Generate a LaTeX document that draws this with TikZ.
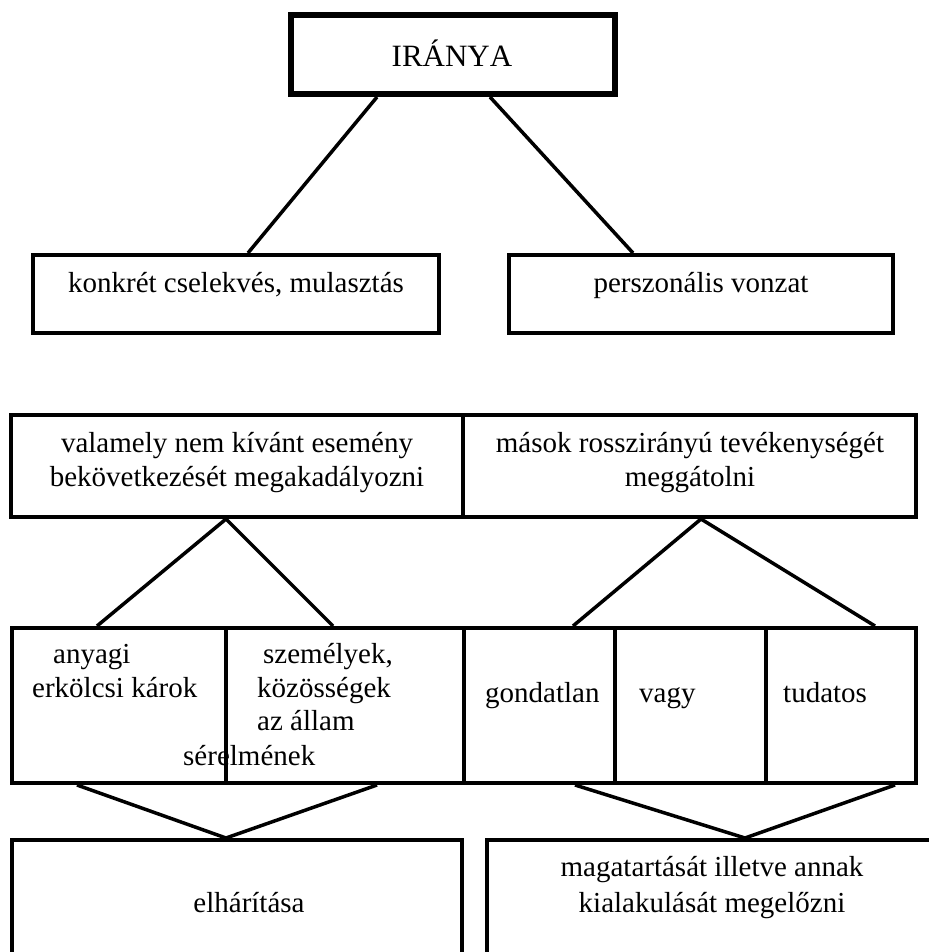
\documentclass[tikz,border=0pt]{standalone}
\usepackage{fontspec}
\setmainfont{Liberation Serif}[Kerning=Off]
\tikzset{box/.style={draw=black,line width=4pt,inner sep=0pt},txt/.style={font=\fontsize{29}{34}\selectfont,inner sep=0pt},conn/.style={line width=3.5pt}}

\begin{document}
\begin{tikzpicture}[x=1pt,y=-1pt]
\useasboundingbox (0,0) rectangle (928,952);
% boxes
\node[box,line width=6pt,minimum width=324pt,minimum height=79pt] (ir) at (453,54.5) {};
\node[box,minimum width=406pt,minimum height=78pt] (kc) at (236,294) {};
\node[box,minimum width=384pt,minimum height=78pt] (pv) at (701,294) {};
\node[box,minimum width=452pt,minimum height=102pt] (vn) at (237,466) {};
\node[box,minimum width=453pt,minimum height=102pt] (mr) at (689.5,466) {};
\node[box,minimum width=214pt,minimum height=155pt] (an) at (119,705.5) {};
\node[box,minimum width=238pt,minimum height=155pt] (sz) at (345,705.5) {};
\node[box,minimum width=151pt,minimum height=155pt] (go) at (539.5,705.5) {};
\node[box,minimum width=151pt,minimum height=155pt] (va) at (690.5,705.5) {};
\node[box,minimum width=150pt,minimum height=155pt] (tu) at (841,705.5) {};
\node[box,minimum width=450pt,minimum height=130pt] (el) at (237,905) {};
\node[box,minimum width=450pt,minimum height=130pt] (mg) at (712,905) {};
% texts
\node[txt,font=\fontsize{31}{36}\selectfont,anchor=base] (t-ir) at (452,67) {IRÁNYA};
\node[txt,anchor=base] (t-kc) at (236,292) {konkrét cselekvés, mulasztás};
\node[txt,anchor=base] (t-pv) at (701,292) {perszonális vonzat};
\node[txt,anchor=base] (t-vn1) at (237,452) {valamely nem kívánt esemény};
\node[txt,anchor=base] (t-vn2) at (237,486) {bekövetkezését megakadályozni};
\node[txt,anchor=base] (t-mr1) at (690,452) {mások rosszirányú tevékenységét};
\node[txt,anchor=base] (t-mr2) at (690,486) {meggátolni};
\node[txt,anchor=base west] (t-an1) at (53,663) {anyagi};
\node[txt,anchor=base west] (t-an2) at (32,697) {erkölcsi károk};
\node[txt,anchor=base west] (t-sz1) at (263,663) {személyek,};
\node[txt,anchor=base west] (t-sz2) at (257,697) {közösségek};
\node[txt,anchor=base west] (t-sz3) at (257,730) {az állam};
\node[txt,anchor=base west] (t-sz4) at (183,765) {sérelmének};
\node[txt,anchor=base west] (t-go) at (485,702) {gondatlan};
\node[txt,anchor=base west] (t-va) at (639,702) {vagy};
\node[txt,anchor=base west] (t-tu) at (783,702) {tudatos};
\node[txt,anchor=base] (t-el) at (249,912) {elhárítása};
\node[txt,anchor=base] (t-mg1) at (712,876) {magatartását illetve annak};
\node[txt,anchor=base] (t-mg2) at (712,912) {kialakulását megelőzni};
% connectors
\draw[conn] ([xshift=-76pt]ir.south) -- ([xshift=12pt]kc.north);
\draw[conn] ([xshift=37pt]ir.south) -- ([xshift=-68pt]pv.north);
\draw[conn] ([xshift=-22pt]an.north) -- ([xshift=-11pt]vn.south) -- ([xshift=-12pt]sz.north);
\draw[conn] ([xshift=33.5pt]go.north) -- ([xshift=11.5pt]mr.south) -- ([xshift=34pt]tu.north);
\draw[conn] ([xshift=-42pt]an.south) -- ([xshift=-11pt]el.north) -- ([xshift=32pt]sz.south);
\draw[conn] ([xshift=35.5pt]go.south) -- ([xshift=33pt]mg.north) -- ([xshift=54pt]tu.south);
\end{tikzpicture}
\end{document}
